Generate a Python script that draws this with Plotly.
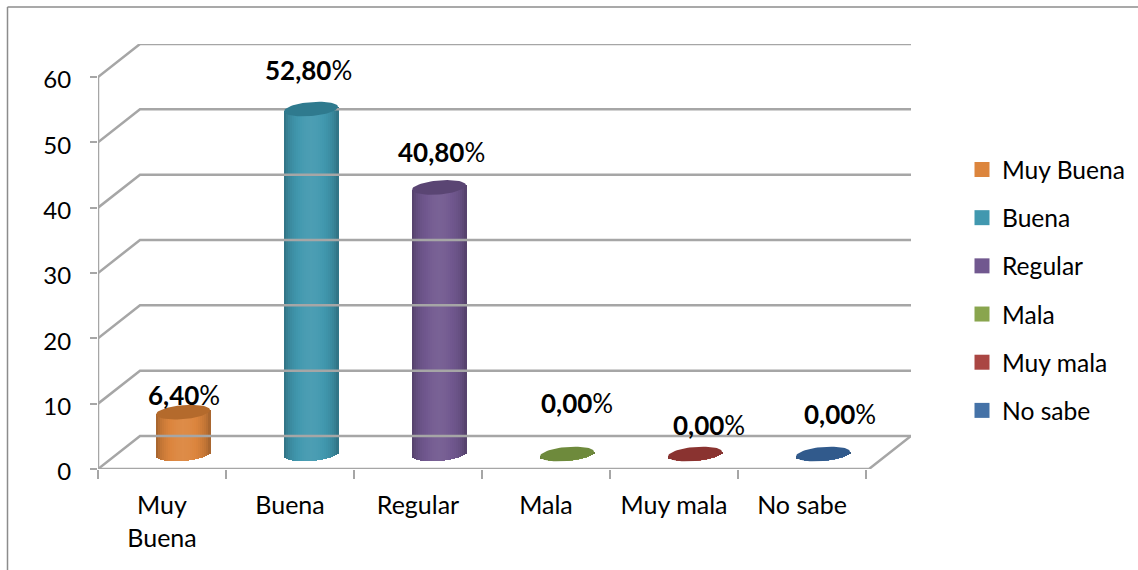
import numpy as np
import plotly.graph_objects as go

categories = ["Muy Buena", "Buena", "Regular", "Mala", "Muy mala", "No sabe"]
tick_labels = ["Muy<br>Buena", "Buena", "Regular", "Mala", "Muy mala", "No sabe"]
values = [6.4, 52.8, 40.8, 0, 0, 0]
value_labels = ["6,40", "52,80", "40,80", "0,00", "0,00", "0,00"]
y_ticks = [0, 10, 20, 30, 40, 50, 60]
legend_colors = ["#DC853D", "#4198AF", "#71588F", "#89A54E", "#AA4643", "#4572A7"]
top_colors = ["#B46A2C", "#2F7A8E", "#5A4573", "#6E8A3C", "#8A3330", "#315A8C"]

L, R, T, B = 98, 911, 44, 469
UX, UY = 128.0, (469 - 77) / 60.0
DX, DY = 42 / UX, 33 / UY
X0 = -0.5
X1 = X0 + (R - L) / UX
Y1 = (B - T) / UY
GRID = "#A6A6A6"
FONT = "Lato"
FS = 24

fig = go.Figure()

# depth walls: grid lines
for v in y_ticks:
    fig.add_trace(go.Scatter(
        x=[X0, X0 + DX, X1], y=[v, v + DY, v + DY], mode="lines",
        line=dict(color=GRID, width=2.5), hoverinfo="skip", showlegend=False))
fig.add_trace(go.Scatter(x=[X0, X0], y=[0, 60], mode="lines",
                         line=dict(color=GRID, width=2.5), hoverinfo="skip", showlegend=False))
fig.add_trace(go.Scatter(x=[X0, X1 - DX, X1], y=[0, 0, DY], mode="lines",
                         line=dict(color=GRID, width=2.5), hoverinfo="skip", showlegend=False))


def shade(hexc, f):
    r, g, b = [int(hexc[i:i + 2], 16) for i in (1, 3, 5)]
    if f > 1:
        r, g, b = [c + (255 - c) * (f - 1) for c in (r, g, b)]
    else:
        r, g, b = r * f, g * f, b * f
    return "#%02X%02X%02X" % (int(r), int(g), int(b))


# cylinders
N = 27
half_w = 27 / UX
half_h = 7 / UY
tilt = 2.2 / UY
centers = np.arange(6) + DX / 2
base_level = DY / 2 - 1.5 / UY
for i in range(N):
    a, b = -1 + 2 * i / N, -1 + 2 * (i + 1) / N
    t = (a + b) / 2
    lower = base_level - half_h * np.sqrt(max(1 - t * t, 0)) + tilt * t
    f = 0.68 + 0.38 * np.sqrt(max(1 - t * t, 0)) * (1 - 0.10 * abs(t))
    fig.add_trace(go.Bar(
        x=centers, y=[v + base_level + tilt * t - lower for v in values], base=lower,
        width=(b - a) * half_w + 0.6 / UX, offset=a * half_w,
        marker=dict(color=[shade(c, f) for c in legend_colors], line_width=0),
        hoverinfo="skip", showlegend=False))

theta = np.linspace(0, 2 * np.pi, 61)
for c, v, col in zip(centers, values, top_colors):
    fig.add_trace(go.Scatter(
        x=c + half_w * np.cos(theta),
        y=v + base_level + half_h * np.sin(theta) + tilt * np.cos(theta),
        mode="lines", fill="toself", fillcolor=col, line=dict(width=0, color=col),
        hoverinfo="skip", showlegend=False))

# native legend
for name, col in zip(categories, legend_colors):
    fig.add_trace(go.Scatter(
        x=[None], y=[None], mode="markers", name=name, legendgroup=name,
        marker=dict(symbol="square", size=15, color=col)))

# data labels
label_shift = [(1, 17), (-3, 39), (2, 35), (10, 51), (14, 29), (17, 40)]
for c, v, t, (sx, sy) in zip(centers, values, value_labels, label_shift):
    fig.add_annotation(x=c, y=v + base_level, text=f"<b>{t}</b>%", showarrow=False,
                       xshift=sx, yshift=sy, font=dict(family=FONT, size=26, color="#000000"))

PW, PH = R - L, B - T
fig.update_layout(
    width=1138, height=570, autosize=False, barmode="overlay", bargap=0,
    margin=dict(l=L, r=1138 - R, t=T, b=570 - B, autoexpand=False),
    paper_bgcolor="white", plot_bgcolor="white",
    font=dict(family=FONT, size=FS, color="#000000"),
    legend=dict(x=(962 - L) / PW, xref="paper", xanchor="left",
                y=1 - (147 - T) / PH, yref="paper", yanchor="top", font=dict(size=24.6),
                tracegroupgap=13.2, itemsizing="trace", bgcolor="rgba(0,0,0,0)"),
    xaxis=dict(range=[X0, X1], tickmode="array", tickvals=list(range(6)), ticktext=tick_labels,
               tickfont=dict(size=25),
               ticks="outside", ticklen=14, tickcolor="rgba(0,0,0,0)", showgrid=False, zeroline=False,
               showline=False,
               minor=dict(tickmode="array", tickvals=[x - 0.5 for x in range(7)], ticks="outside",
                          ticklen=9, tickcolor=GRID, tickwidth=2, showgrid=False)),
    yaxis=dict(range=[0, Y1], tickmode="array", tickvals=y_ticks, ticks="outside", ticklen=7,
               ticklabelstandoff=14, ticklabelshift=3,
               tickcolor=GRID, tickwidth=2, showgrid=False, zeroline=False, showline=False),
    shapes=[dict(type="line", xref="paper", yref="paper", x0=-90.5 / PW, x1=1 + 227 / PW,
                 y0=1 + 37 / PH, y1=1 + 37 / PH, line=dict(color="#8C8C8C", width=1.5)),
            dict(type="line", xref="paper", yref="paper", x0=-90.5 / PW, x1=-90.5 / PW,
                 y0=1 + 37 / PH, y1=-101 / PH, line=dict(color="#8C8C8C", width=1.5))],
)
fig.write_html("out.html", config=dict(displayModeBar=False),
               post_script="document.body.style.margin='0';")
